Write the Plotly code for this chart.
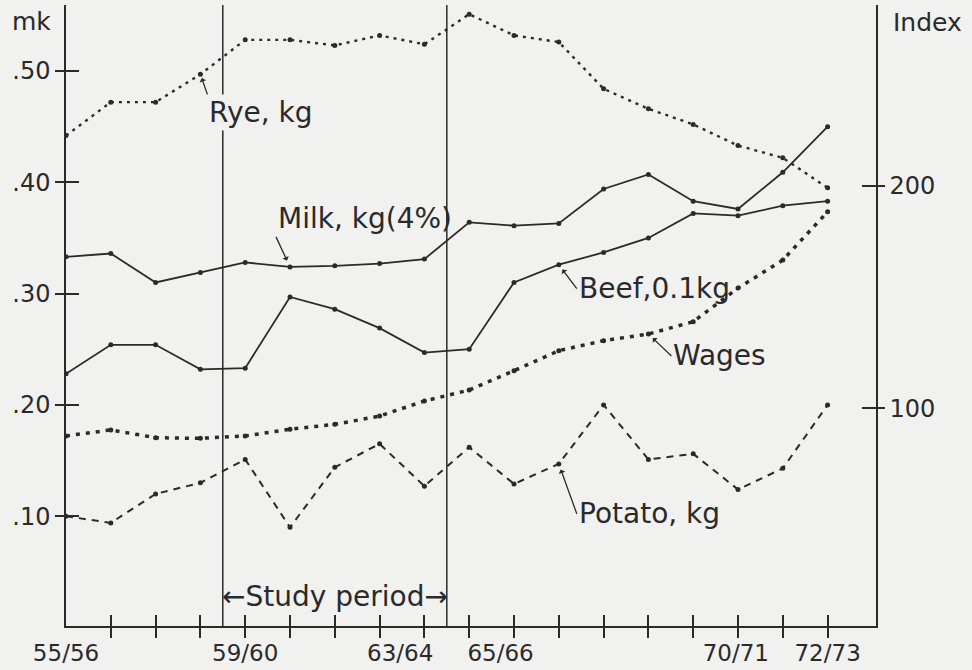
import plotly.graph_objects as go

# ---------------- data ----------------
seasons = ["55/56", "56/57", "57/58", "58/59", "59/60", "60/61", "61/62", "62/63", "63/64",
           "64/65", "65/66", "66/67", "67/68", "68/69", "69/70", "70/71", "71/72", "72/73"]

rye = [0.442, 0.472, 0.472, 0.497, 0.528, 0.528, 0.523, 0.532, 0.524,
       0.551, 0.532, 0.526, 0.484, 0.466, 0.452, 0.433, 0.422, 0.395]
milk = [0.333, 0.336, 0.310, 0.319, 0.328, 0.324, 0.325, 0.327, 0.331,
        0.364, 0.361, 0.363, 0.394, 0.407, 0.383, 0.376, 0.409, 0.450]
beef = [0.228, 0.254, 0.254, 0.232, 0.233, 0.297, 0.286, 0.269, 0.247,
        0.250, 0.310, 0.326, 0.337, 0.350, 0.372, 0.370, 0.379, 0.383]
potato = [0.100, 0.094, 0.120, 0.130, 0.151, 0.090, 0.144, 0.165, 0.127,
          0.162, 0.129, 0.147, 0.200, 0.151, 0.156, 0.124, 0.143, 0.200]
wages_index = [87.6, 90.3, 86.8, 86.5, 87.6, 90.6, 92.8, 96.5, 103.3,
               108.2, 116.9, 125.9, 130.4, 133.4, 138.9, 154.0, 166.6, 188.3]

labelled_seasons = ["55/56", "59/60", "63/64", "65/66", "70/71", "72/73"]
study_period = ["59/60", "63/64"]

mk_ticks = [0.10, 0.20, 0.30, 0.40, 0.50]
mk_ticktext = [".10", ".20", ".30", ".40", ".50"]
index_ticks = [100, 200]

# ---------------- style ----------------
BG = "#f1f1ef"
INK = "#2a2a2a"
FONT = "DejaVu Sans"
label_shift = [0, 0, -0.54, -0.3, -0.05, 0]   # where the drafter put the labels

xs = list(range(len(seasons)))
x_range = [0, 18.08]
y_range = [0.00135, 0.5593]
y2_range = [2.2, 281.2]

fig = go.Figure()

dot = dict(size=5, color=INK)
fig.add_trace(go.Scatter(x=xs, y=rye, mode="lines+markers",
                         line=dict(color=INK, width=2.4, dash="3px,5px"), marker=dot))
fig.add_trace(go.Scatter(x=xs, y=milk, mode="lines+markers",
                         line=dict(color=INK, width=1.8), marker=dot))
fig.add_trace(go.Scatter(x=xs, y=beef, mode="lines+markers",
                         line=dict(color=INK, width=1.8), marker=dot))
fig.add_trace(go.Scatter(x=xs, y=potato, mode="lines+markers",
                         line=dict(color=INK, width=2, dash="7px,6px"), marker=dot))
fig.add_trace(go.Scatter(x=xs, y=wages_index, mode="lines+markers", yaxis="y2",
                         line=dict(color=INK, width=3.5, dash="4px,6px"), marker=dot))

# helper empty traces so the tick-only overlay axes are drawn
for xa, ya in [("x3", "y"), ("x4", "y"), ("x", "y3"), ("x", "y4")]:
    fig.add_trace(go.Scatter(x=[None], y=[None], xaxis=xa, yaxis=ya,
                             mode="lines", hoverinfo="skip"))

# study period boundaries
s0 = seasons.index(study_period[0]) - 0.5
s1 = seasons.index(study_period[1]) + 0.5
for xv in (s0, s1):
    fig.add_shape(type="line", xref="x", yref="paper", x0=xv, x1=xv, y0=0, y1=1,
                  line=dict(color=INK, width=1.5))

label_pos = [seasons.index(s) + d for s, d in zip(labelled_seasons, label_shift)]
minor_ticks = xs[1:]

axis_common = dict(showgrid=False, zeroline=False, color=INK, automargin=False)
fig.update_layout(
    width=972, height=670,
    margin=dict(l=66, r=96, t=5, b=44, autoexpand=False),
    paper_bgcolor=BG, plot_bgcolor=BG,
    showlegend=False,
    font=dict(family=FONT, color=INK),
    xaxis=dict(range=x_range, tickmode="array", tickvals=label_pos, ticktext=labelled_seasons,
               ticks="outside", ticklen=6, tickcolor="rgba(0,0,0,0)",
               showline=True, linecolor=INK, linewidth=1.5,
               tickfont=dict(size=23, family=FONT, color=INK), **axis_common),
    xaxis3=dict(overlaying="x", range=x_range, tickmode="array", tickvals=minor_ticks,
                ticks="outside", ticklen=11, tickwidth=1.5, tickcolor=INK,
                showticklabels=False, showline=False, **axis_common),
    xaxis4=dict(overlaying="x", range=x_range, tickmode="array", tickvals=minor_ticks,
                ticks="inside", ticklen=11, tickwidth=1.5, tickcolor=INK,
                showticklabels=False, showline=False, **axis_common),
    yaxis=dict(range=y_range, tickmode="array", tickvals=mk_ticks, ticktext=mk_ticktext,
               ticks="outside", ticklen=9, tickwidth=1.5, tickcolor=INK,
               showline=True, linecolor=INK, linewidth=1.5,
               tickfont=dict(size=24, family=FONT, color=INK), **axis_common),
    yaxis3=dict(overlaying="y", side="left", range=y_range, tickmode="array", tickvals=mk_ticks,
                ticks="inside", ticklen=13, tickwidth=1.5, tickcolor=INK,
                showticklabels=False, showline=False, **axis_common),
    yaxis2=dict(overlaying="y", side="right", range=y2_range, tickmode="array",
                tickvals=index_ticks, ticks="outside", ticklen=7, tickwidth=1.5, tickcolor=INK,
                showline=True, linecolor=INK, linewidth=1.5,
                tickfont=dict(size=24, family=FONT, color=INK), **axis_common),
    yaxis4=dict(overlaying="y", side="right", range=y2_range, tickmode="array",
                tickvals=index_ticks, ticks="inside", ticklen=14, tickwidth=1.5, tickcolor=INK,
                showticklabels=False, showline=False, **axis_common),
)

lab_font = dict(size=28, family=FONT, color=INK)
arrow = dict(showarrow=True, arrowhead=1, arrowsize=0.9, arrowwidth=1.3, arrowcolor=INK)

fig.add_annotation(x=3, y=rye[3], text="Rye, kg", ax=7, ay=20, xanchor="left", yanchor="top",
                   bgcolor=BG, font=lab_font, standoff=4, **arrow)
fig.add_annotation(x=5, y=milk[5], text="Milk, kg(4%)", ax=-14, ay=-30,
                   xanchor="left", yanchor="bottom", font=lab_font, standoff=7, **arrow)
fig.add_annotation(x=11, y=beef[11], text="Beef,0.1kg", ax=18, ay=24,
                   xanchor="left", yanchor="middle", font=lab_font, standoff=6, **arrow)
fig.add_annotation(x=13, y=wages_index[13], yref="y2", text="Wages", ax=23, ay=22,
                   xanchor="left", yanchor="middle", font=lab_font, standoff=6, **arrow)
fig.add_annotation(x=11, y=potato[11], text="Potato, kg", ax=18, ay=50,
                   xanchor="left", yanchor="middle", font=lab_font, standoff=6, **arrow)
fig.add_annotation(x=(s0 + s1) / 2, y=0.0467, xref="x", yref="paper", text="←Study period→",
                   xanchor="center", yanchor="middle", showarrow=False, font=lab_font)
fig.add_annotation(x=-0.042, y=0.974, xref="paper", yref="paper", text="mk",
                   xanchor="center", yanchor="middle",
                   showarrow=False, font=dict(size=25, family=FONT, color=INK))
fig.add_annotation(x=1.0636, y=0.972, xref="paper", yref="paper", text="Index",
                   xanchor="center", yanchor="middle",
                   showarrow=False, font=dict(size=25, family=FONT, color=INK))

fig.write_html("out.html", config={"displayModeBar": False},
               post_script="document.body.style.margin='0';document.body.style.overflow='hidden';")
